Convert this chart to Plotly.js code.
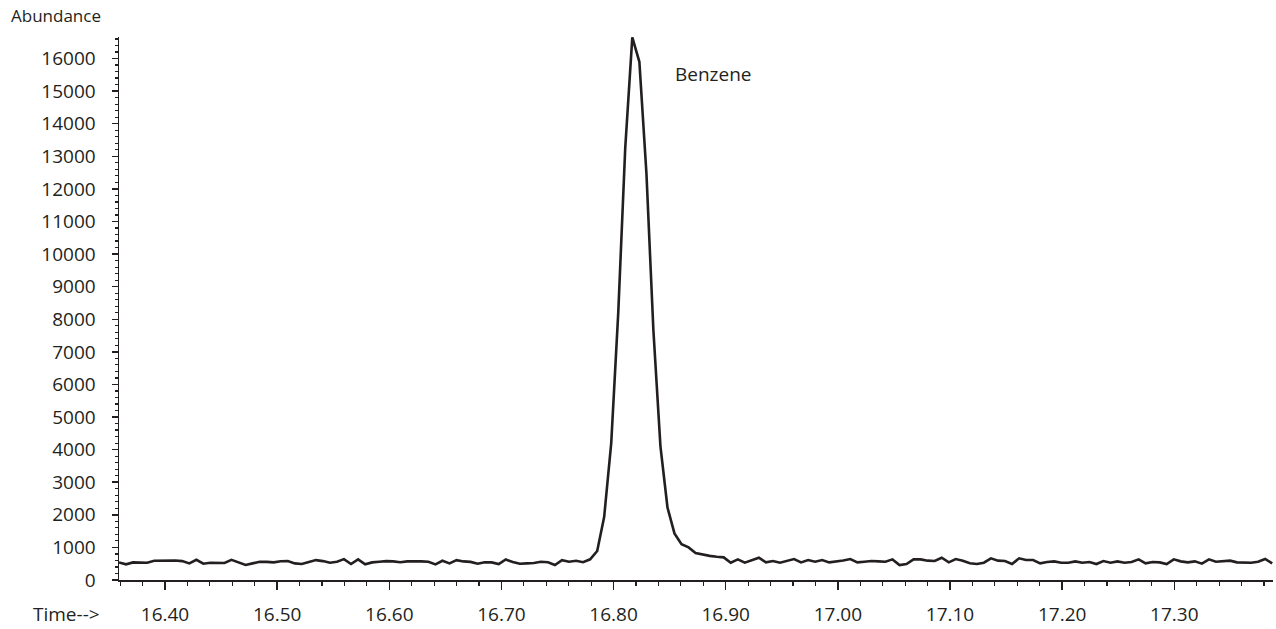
<!DOCTYPE html>
<html>
<head>
<meta charset="utf-8">
<script src="https://cdn.plot.ly/plotly-3.0.1.min.js"></script>
<style>
  html, body { margin: 0; padding: 0; background: #ffffff; }
  #chart { width: 1276px; height: 629px; }
</style>
</head>
<body>
<div id="chart"></div>
<script>
// Retention time (min) of each scan
var retentionTime = [
  16.3590,16.3653,16.3715,16.3778,16.3841,16.3904,16.3966,16.4029,16.4092,16.4154,
  16.4217,16.4280,16.4342,16.4405,16.4468,16.4531,16.4593,16.4656,16.4719,16.4781,
  16.4844,16.4907,16.4969,16.5032,16.5095,16.5158,16.5220,16.5283,16.5346,16.5408,
  16.5471,16.5534,16.5596,16.5659,16.5722,16.5785,16.5847,16.5910,16.5973,16.6035,
  16.6098,16.6161,16.6223,16.6286,16.6349,16.6412,16.6474,16.6537,16.6600,16.6662,
  16.6725,16.6788,16.6850,16.6913,16.6976,16.7039,16.7101,16.7164,16.7227,16.7289,
  16.7352,16.7415,16.7477,16.7540,16.7603,16.7666,16.7728,16.7791,16.7854,16.7916,
  16.7979,16.8042,16.8104,16.8167,16.8230,16.8293,16.8355,16.8418,16.8481,16.8543,
  16.8606,16.8669,16.8731,16.8794,16.8857,16.8920,16.8982,16.9045,16.9108,16.9170,
  16.9233,16.9296,16.9358,16.9421,16.9484,16.9547,16.9609,16.9672,16.9735,16.9797,
  16.9860,16.9923,16.9985,17.0048,17.0111,17.0174,17.0236,17.0299,17.0362,17.0424,
  17.0487,17.0550,17.0612,17.0675,17.0738,17.0801,17.0863,17.0926,17.0989,17.1051,
  17.1114,17.1177,17.1239,17.1302,17.1365,17.1428,17.1490,17.1553,17.1616,17.1678,
  17.1741,17.1804,17.1866,17.1929,17.1992,17.2055,17.2117,17.2180,17.2243,17.2305,
  17.2368,17.2431,17.2493,17.2556,17.2619,17.2682,17.2744,17.2807,17.2870,17.2932,
  17.2995,17.3058,17.3120,17.3183,17.3246,17.3309,17.3371,17.3434,17.3497,17.3559,
  17.3622,17.3685,17.3747,17.3810,17.3873
];

// Total ion abundance of each scan
var abundance = [
  540,480,540,545,530,590,600,610,600,580,
  510,620,500,530,530,520,620,540,460,510,
  560,555,540,575,580,510,490,550,610,580,
  530,560,640,490,633,480,540,560,580,570,
  545,570,575,570,560,480,590,510,610,570,
  555,500,545,540,490,630,550,500,510,520,
  560,545,460,610,560,590,545,635,890,1930,
  4200,8220,13250,16650,15900,12480,7670,4100,2220,1430,
  1100,1000,830,780,740,715,695,531,633,531,
  613,684,541,582,531,582,644,541,613,562,
  613,541,560,600,644,541,562,582,570,562,
  633,460,490,633,633,593,582,684,541,644,
  593,511,490,531,664,593,582,490,664,613,
  613,511,552,572,531,531,572,531,552,490,
  582,531,572,531,552,633,511,552,541,490,
  633,572,541,572,500,633,562,572,593,541,
  531,531,562,644,511
];

var peakLabel = "Benzene";
var yAxisLabel = "Abundance";
var xAxisLabel = "Time-->";

var ink = "#231f20";
var fontFamily = "'Open Sans', 'Noto Sans', sans-serif";

var trace = {
  x: retentionTime,
  y: abundance,
  type: "scatter",
  mode: "lines",
  line: { color: ink, width: 2.6 },
  cliponaxis: false,
  hoverinfo: "skip"
};

var layout = {
  width: 1276,
  height: 629,
  margin: { l: 119, r: 3, t: 37, b: 49, pad: 0 },
  paper_bgcolor: "#ffffff",
  plot_bgcolor: "#ffffff",
  showlegend: false,
  font: { family: fontFamily, color: ink, size: 19 },
  xaxis: {
    range: [16.359, 17.388],
    tick0: 16.4,
    dtick: 0.1,
    tickformat: ".2f",
    showgrid: false,
    zeroline: false,
    showline: true,
    linecolor: ink,
    linewidth: 1.5,
    ticks: "outside",
    ticklen: 8,
    tickwidth: 1.5,
    tickcolor: ink,
    ticklabelstandoff: 9,
    tickfont: { family: fontFamily, size: 19, color: ink },
    minor: { dtick: 0.02, tick0: 16.4, ticks: "outside", ticklen: 4, tickwidth: 1.2, tickcolor: ink, showgrid: false }
  },
  yaxis: {
    range: [0, 16660],
    tick0: 0,
    dtick: 1000,
    tickformat: "d",
    showgrid: false,
    zeroline: false,
    showline: true,
    linecolor: ink,
    linewidth: 1.5,
    ticks: "outside",
    ticklen: 6,
    tickwidth: 1.5,
    tickcolor: ink,
    ticklabelstandoff: 12,
    tickfont: { family: fontFamily, size: 19, color: ink },
    minor: { dtick: 200, tick0: 0, ticks: "outside", ticklen: 3, tickwidth: 1.2, tickcolor: ink, showgrid: false }
  },
  annotations: [
    {
      text: peakLabel, xref: "paper", yref: "paper",
      x: 0.5152, y: 0.9319, xanchor: "center", yanchor: "middle",
      showarrow: false, font: { family: fontFamily, size: 19, color: ink }
    },
    {
      text: yAxisLabel, xref: "paper", yref: "paper",
      x: -0.0953, y: 1.0396, xanchor: "left", yanchor: "middle",
      showarrow: false, font: { family: fontFamily, size: 17, color: ink }
    },
    {
      text: xAxisLabel, xref: "paper", yref: "paper",
      x: -0.0147, y: -0.0626, xanchor: "right", yanchor: "middle",
      showarrow: false, font: { family: fontFamily, size: 19, color: ink }
    }
  ]
};

Plotly.newPlot("chart", [trace], layout, { displayModeBar: false, staticPlot: true });
</script>
</body>
</html>
